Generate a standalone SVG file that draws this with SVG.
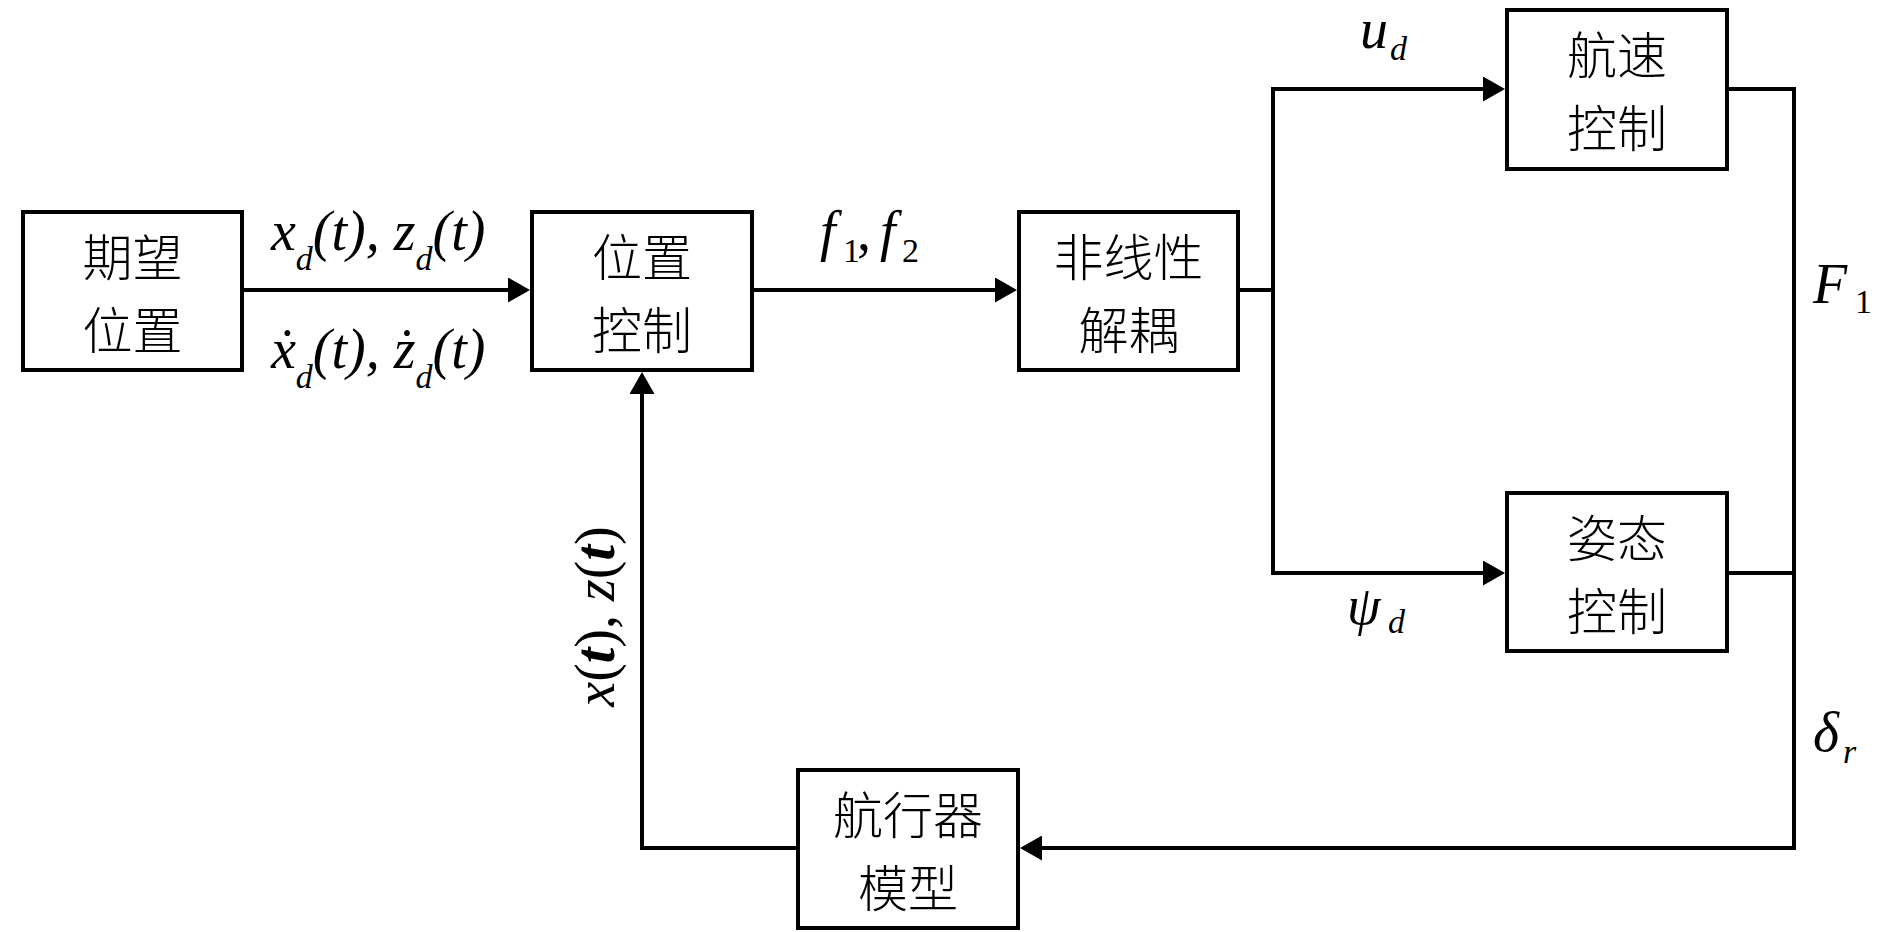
<svg xmlns="http://www.w3.org/2000/svg" width="1890" height="932" viewBox="0 0 1890 932">
<style>
.box{fill:#fff;stroke:#000;stroke-width:4}
.cn{font-family:"Noto Sans CJK SC","Noto Sans",sans-serif;font-size:50px;font-weight:300;fill:#000;text-anchor:middle}
.ln{fill:none;stroke:#000;stroke-width:4}
.m{font-family:"Liberation Serif","Times New Roman",serif;font-size:56px;font-style:italic;fill:#000}
.s{font-size:34px}
.up{font-style:normal}
.b{font-weight:bold}
</style>
<defs>
<marker id="ah" markerUnits="userSpaceOnUse" markerWidth="22" markerHeight="25" refX="14" refY="12.5" orient="auto">
<path d="M0,0 L22,12.5 L0,25 z" fill="#000"/>
</marker>
</defs>
<rect width="1890" height="932" fill="#fff"/>
<g id="connectors">
<path class="ln" d="M244,290 H522" marker-end="url(#ah)"/>
<path class="ln" d="M754,290 H1009" marker-end="url(#ah)"/>
<path class="ln" d="M1240,290 H1273"/>
<path class="ln" d="M1273,290 V89 H1497" marker-end="url(#ah)"/>
<path class="ln" d="M1273,290 V573 H1497" marker-end="url(#ah)"/>
<path class="ln" d="M1729,89 H1794 V848 H1028" marker-end="url(#ah)"/>
<path class="ln" d="M1729,573 H1794"/>
<path class="ln" d="M796,848 H642 V380" marker-end="url(#ah)"/>
</g>
<g id="labels">
<text class="m" x="271" y="250">x<tspan class="s" y="270">d</tspan><tspan y="250">(t), z</tspan><tspan class="s" y="270">d</tspan><tspan y="250">(t)</tspan></text>
<text class="m" x="271" y="368">ẋ<tspan class="s" y="388">d</tspan><tspan y="368">(t), ż</tspan><tspan class="s" y="388">d</tspan><tspan y="368">(t)</tspan></text>
<text class="m" y="250"><tspan x="820">f</tspan><tspan class="s up" x="843" y="262">1</tspan><tspan class="up" x="857" y="250">,</tspan><tspan x="880">f</tspan><tspan class="s up" x="902" y="262">2</tspan></text>
<text class="m" x="1360" y="48">u<tspan class="s" x="1390" y="60">d</tspan></text>
<text class="m" x="1813" y="303">F<tspan class="s up" x="1855" y="313">1</tspan></text>
<text class="m" x="1347" y="624" style="font-size:54px">ψ<tspan class="s" x="1388" y="633">d</tspan></text>
<text class="m" x="1813" y="751">δ<tspan class="s" x="1843" y="763">r</tspan></text>
<text class="m" transform="translate(614,616.5) rotate(-90)" text-anchor="middle">x<tspan class="up">(</tspan><tspan class="b">t</tspan><tspan class="up">), </tspan>z<tspan class="up">(</tspan><tspan class="b">t</tspan><tspan class="up">)</tspan></text>
</g>
<g id="n1"><rect class="box" x="23" y="212" width="219" height="158"/><text class="cn"><tspan x="132.5" y="275.5">期望</tspan><tspan x="132.5" y="348.5">位置</tspan></text></g>
<g id="n2"><rect class="box" x="532" y="212" width="220" height="158"/><text class="cn"><tspan x="642" y="275.5">位置</tspan><tspan x="642" y="348.5">控制</tspan></text></g>
<g id="n3"><rect class="box" x="1019" y="212" width="219" height="158"/><text class="cn"><tspan x="1128.5" y="275.5">非线性</tspan><tspan x="1128.5" y="348.5">解耦</tspan></text></g>
<g id="n4"><rect class="box" x="1507" y="10" width="220" height="159"/><text class="cn"><tspan x="1617" y="73.5">航速</tspan><tspan x="1617" y="146.5">控制</tspan></text></g>
<g id="n5"><rect class="box" x="1507" y="493" width="220" height="158"/><text class="cn"><tspan x="1617" y="556.5">姿态</tspan><tspan x="1617" y="629.5">控制</tspan></text></g>
<g id="n6"><rect class="box" x="798" y="770" width="220" height="158"/><text class="cn"><tspan x="908" y="833.5">航行器</tspan><tspan x="908" y="906.5">模型</tspan></text></g>
</svg>
